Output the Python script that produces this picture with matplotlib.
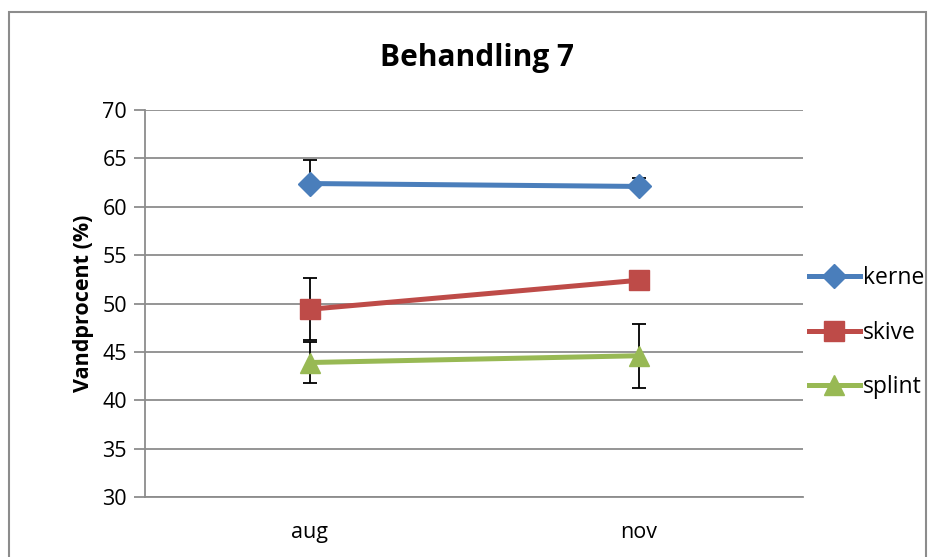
import matplotlib
matplotlib.use("Agg")
import matplotlib.pyplot as plt
from matplotlib.patches import Rectangle

categories = ["aug", "nov"]
kerne = [62.4, 62.1]
kerne_err_lo = [0.0, 0.0]
kerne_err_hi = [2.4, 0.9]
skive = [49.4, 52.4]
skive_err = [3.2, 0.5]
splint = [43.9, 44.6]
splint_err = [2.1, 3.3]
yticks = [30, 35, 40, 45, 50, 55, 60, 65, 70]

plt.rcParams['font.family'] = ['Open Sans', 'DejaVu Sans']

fig = plt.figure(figsize=(9.33, 5.57), dpi=100)
fig.patches.append(Rectangle((9/933, -0.1), (926-9)/933, 1.1 - 12/557,
                             transform=fig.transFigure, fill=False,
                             edgecolor='#8c8c8c', linewidth=1.5))
ax = fig.add_axes([145/933, 60/557, (803-145)/933, (497-110)/557])
x = list(range(len(categories)))

ax.errorbar(x, kerne, yerr=[kerne_err_lo, kerne_err_hi], fmt='none', ecolor='black',
            elinewidth=1.3, capsize=5, capthick=1.3, zorder=2)
ax.errorbar(x, skive, yerr=skive_err, fmt='none', ecolor='black',
            elinewidth=1.3, capsize=5, capthick=1.3, zorder=2)
ax.errorbar(x, splint, yerr=splint_err, fmt='none', ecolor='black',
            elinewidth=1.3, capsize=5, capthick=1.3, zorder=2)

ax.plot(x, kerne, color='#4a7ebb', lw=3.6, marker='D', ms=12, label='kerne', zorder=3)
ax.plot(x, skive, color='#be4b48', lw=3.6, marker='s', ms=14, label='skive', zorder=3)
ax.plot(x, splint, color='#98b954', lw=3.6, marker='^', ms=15, label='splint', zorder=3)

ax.set_xlim(-0.5, 1.5)
ax.set_ylim(30, 70)
ax.set_yticks(yticks)
ax.set_xticks(x)
ax.set_xticklabels(categories)
ax.yaxis.grid(True, color='#8c8c8c', lw=1.3)
ax.set_axisbelow(True)
for s in ['top', 'right']:
    ax.spines[s].set_visible(False)
for s in ['left', 'bottom']:
    ax.spines[s].set_color('#8c8c8c')
    ax.spines[s].set_linewidth(1.3)
ax.tick_params(axis='y', length=8, color='#8c8c8c', width=1.3, labelsize=15.5, pad=5)
ax.tick_params(axis='x', length=0, labelsize=15.5, pad=18)
ax.set_ylabel('Vandprocent (%)', fontsize=15.5, fontweight='bold', labelpad=6)
fig.text(477/933, 1 - 58/557, 'Behandling 7', ha='center', va='center',
         fontsize=21.5, fontweight='bold')

leg = ax.legend(loc='center left', bbox_to_anchor=(1.006, 0.425), frameon=False,
                fontsize=16.5, handlelength=2.2, handletextpad=0.15, labelspacing=1.35,
                borderaxespad=0, borderpad=0.1)

fig.savefig('out.png', dpi=100)
